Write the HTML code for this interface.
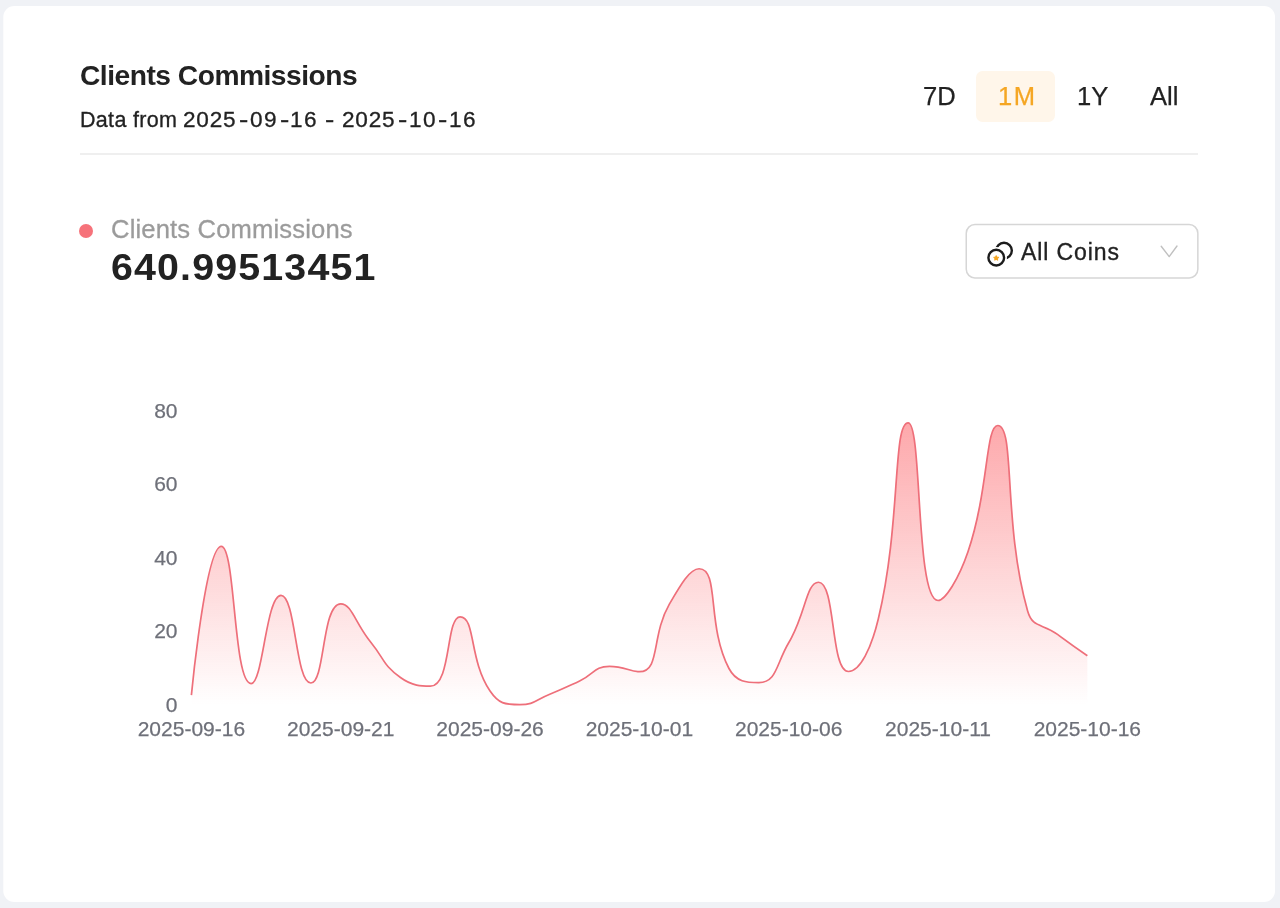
<!DOCTYPE html>
<html><head><meta charset="utf-8"><title>Clients Commissions</title>
<style>
html,body{margin:0;padding:0}
body{width:1280px;height:908px;overflow:hidden;background:#f0f2f6;position:relative;font-family:"Liberation Sans",sans-serif;color:#222}
.t{position:absolute;white-space:nowrap;line-height:1;will-change:transform}
.s{color:#222;-webkit-text-stroke:.3px #222;transform-origin:0 0}
.h{transform:scaleX(1.3)}
.d4{letter-spacing:.75px;transform:scaleX(1.05)}
.d2{letter-spacing:1.3px;transform:scaleX(1.05)}
.hr{position:absolute;left:80px;top:153px;width:1118px;height:2px;background:#efefef}
.pill{position:absolute;left:975.7px;top:71.1px;width:78.9px;height:50.8px;border-radius:6.5px;background:#fff6ea}
.dot{position:absolute;left:79.3px;top:223.7px;width:14.2px;height:14.2px;border-radius:50%;background:#f6727a}
svg{position:absolute;left:0;top:0;will-change:transform}
svg text{font-family:"Liberation Sans",sans-serif;font-size:21px;fill:#6e7079;stroke:#6e7079;stroke-width:.25px}
</style></head><body>
<svg width="1280" height="908" style="will-change:auto"><rect x="3.3" y="6" width="1271.7" height="896" rx="11" fill="#fff"/></svg>
<div class="t" style="left:79.70px;top:61.33px;font-size:28.20px;font-weight:700;letter-spacing:-.5px;color:#222">Clients Commissions</div>
<div class="t s" style="left:80.10px;top:109.50px;font-size:21.50px;letter-spacing:.32px">Data from</div>
<div class="t s d4" style="left:183.10px;top:109.50px;font-size:21.50px;">2025</div>
<div class="t s h" style="left:239.00px;top:109.50px;font-size:21.50px;">-</div>
<div class="t s d2" style="left:250.00px;top:109.50px;font-size:21.50px;">09</div>
<div class="t s h" style="left:279.60px;top:109.50px;font-size:21.50px;">-</div>
<div class="t s d2" style="left:289.90px;top:109.50px;font-size:21.50px;">16</div>
<div class="t s h" style="left:324.70px;top:109.50px;font-size:21.50px;">-</div>
<div class="t s d4" style="left:342.20px;top:109.50px;font-size:21.50px;">2025</div>
<div class="t s h" style="left:397.70px;top:109.50px;font-size:21.50px;">-</div>
<div class="t s d2" style="left:408.80px;top:109.50px;font-size:21.50px;">10</div>
<div class="t s h" style="left:438.30px;top:109.50px;font-size:21.50px;">-</div>
<div class="t s d2" style="left:448.60px;top:109.50px;font-size:21.50px;">16</div>
<div class="hr"></div>
<div class="pill"></div>
<div class="t" style="left:922.60px;top:83.93px;font-size:25.60px;color:#222;-webkit-text-stroke:.25px #222">7D</div>
<div class="t" style="left:998.00px;top:83.93px;font-size:25.60px;color:#f5a623;letter-spacing:1.6px;-webkit-text-stroke:.25px #f5a623">1M</div>
<div class="t" style="left:1076.60px;top:83.93px;font-size:25.60px;color:#222;-webkit-text-stroke:.25px #222">1Y</div>
<div class="t" style="left:1149.60px;top:83.93px;font-size:25.60px;color:#222;-webkit-text-stroke:.25px #222">All</div>
<div class="dot"></div>
<div class="t" style="left:111.20px;top:216.73px;font-size:25.60px;color:#9b9b9b;letter-spacing:.15px;-webkit-text-stroke:.3px #9b9b9b">Clients Commissions</div>
<div class="t" style="left:111.30px;top:249.66px;font-size:36.20px;font-weight:700;letter-spacing:1.05px;color:#222;transform-origin:0 0;transform:scaleX(1.088)">640.99513451</div>
<div class="t" style="left:1021.30px;top:240.73px;font-size:23.00px;color:#222;letter-spacing:.9px;-webkit-text-stroke:.35px #222">All Coins</div>
<svg width="1280" height="908" viewBox="0 0 1280 908">
<defs><linearGradient id="g" gradientUnits="userSpaceOnUse" x1="0" y1="422.8" x2="0" y2="705.0">
<stop offset="0" stop-color="#fc6e73" stop-opacity=".6"/><stop offset="1" stop-color="#fc6e73" stop-opacity="0"/></linearGradient></defs>
<path d="M191.40 695.20 C191.40 695.20 205.75 546.30 221.27 546.30 C235.62 546.30 233.17 683.60 251.13 683.60 C263.03 683.60 266.02 595.40 281.00 595.40 C295.88 595.40 295.26 683.00 310.86 683.00 C325.13 683.00 321.74 603.80 340.73 603.80 C351.60 603.80 355.33 623.17 370.59 642.00 C385.19 660.02 382.58 664.52 400.45 677.50 C412.44 686.20 421.61 686.20 430.32 686.20 C451.48 686.20 445.68 616.80 460.18 616.80 C475.54 616.80 468.88 659.85 490.05 691.00 C498.75 703.80 504.70 704.70 519.91 704.70 C534.57 704.70 535.08 700.03 549.78 694.20 C564.94 688.18 564.86 687.91 579.64 681.00 C594.72 673.96 593.89 666.30 609.51 666.30 C623.75 666.30 630.66 671.70 639.38 671.70 C660.52 671.70 650.94 635.95 669.24 604.40 C680.80 584.47 689.88 568.75 699.11 568.75 C719.75 568.75 706.30 625.28 728.97 668.50 C736.16 682.21 746.92 682.60 758.83 682.60 C776.79 682.60 776.03 664.09 788.70 642.80 C805.89 613.91 806.09 582.25 818.56 582.25 C835.95 582.25 830.24 671.50 848.43 671.50 C860.10 671.50 871.33 648.01 878.29 619.00 C901.19 523.66 892.51 422.80 908.16 422.80 C922.37 422.80 915.33 600.50 938.02 600.50 C945.20 600.50 958.79 578.66 967.89 552.00 C988.66 491.16 985.54 425.50 997.75 425.50 C1015.41 425.50 1002.77 524.10 1027.62 611.00 C1032.64 628.55 1042.30 623.04 1057.48 634.40 C1072.17 645.39 1087.35 655.70 1087.35 655.70 L1087.35 705.00 L191.40 705.00 Z" fill="url(#g)"/>
<path d="M191.40 695.20 C191.40 695.20 205.75 546.30 221.27 546.30 C235.62 546.30 233.17 683.60 251.13 683.60 C263.03 683.60 266.02 595.40 281.00 595.40 C295.88 595.40 295.26 683.00 310.86 683.00 C325.13 683.00 321.74 603.80 340.73 603.80 C351.60 603.80 355.33 623.17 370.59 642.00 C385.19 660.02 382.58 664.52 400.45 677.50 C412.44 686.20 421.61 686.20 430.32 686.20 C451.48 686.20 445.68 616.80 460.18 616.80 C475.54 616.80 468.88 659.85 490.05 691.00 C498.75 703.80 504.70 704.70 519.91 704.70 C534.57 704.70 535.08 700.03 549.78 694.20 C564.94 688.18 564.86 687.91 579.64 681.00 C594.72 673.96 593.89 666.30 609.51 666.30 C623.75 666.30 630.66 671.70 639.38 671.70 C660.52 671.70 650.94 635.95 669.24 604.40 C680.80 584.47 689.88 568.75 699.11 568.75 C719.75 568.75 706.30 625.28 728.97 668.50 C736.16 682.21 746.92 682.60 758.83 682.60 C776.79 682.60 776.03 664.09 788.70 642.80 C805.89 613.91 806.09 582.25 818.56 582.25 C835.95 582.25 830.24 671.50 848.43 671.50 C860.10 671.50 871.33 648.01 878.29 619.00 C901.19 523.66 892.51 422.80 908.16 422.80 C922.37 422.80 915.33 600.50 938.02 600.50 C945.20 600.50 958.79 578.66 967.89 552.00 C988.66 491.16 985.54 425.50 997.75 425.50 C1015.41 425.50 1002.77 524.10 1027.62 611.00 C1032.64 628.55 1042.30 623.04 1057.48 634.40 C1072.17 645.39 1087.35 655.70 1087.35 655.70" fill="none" stroke="#ee6f7a" stroke-width="1.7" stroke-linejoin="round" stroke-linecap="butt"/>
<text x="191.40" y="735.9" text-anchor="middle">2025-09-16</text>
<text x="340.73" y="735.9" text-anchor="middle">2025-09-21</text>
<text x="490.05" y="735.9" text-anchor="middle">2025-09-26</text>
<text x="639.38" y="735.9" text-anchor="middle">2025-10-01</text>
<text x="788.70" y="735.9" text-anchor="middle">2025-10-06</text>
<text x="938.02" y="735.9" text-anchor="middle">2025-10-11</text>
<text x="1087.35" y="735.9" text-anchor="middle">2025-10-16</text>
<text x="177.5" y="711.80" text-anchor="end">0</text>
<text x="177.5" y="638.30" text-anchor="end">20</text>
<text x="177.5" y="564.80" text-anchor="end">40</text>
<text x="177.5" y="491.30" text-anchor="end">60</text>
<text x="177.5" y="417.80" text-anchor="end">80</text>
<rect x="966.25" y="224.55" width="231.6" height="53.4" rx="8.7" fill="none" stroke="#d6d6d6" stroke-width="1.5"/>
<g fill="none" stroke="#1c1c1c" stroke-width="2.4">
<circle cx="1004" cy="250.6" r="7.85"/>
<circle cx="996.25" cy="257.65" r="9.4" fill="#fff" stroke="#fff" stroke-width="2.6"/>
<circle cx="996.25" cy="257.65" r="7.85"/>
</g>
<path d="M996.2 255.7l.72 1.45 1.6.24-1.16 1.12.28 1.6-1.44-.76-1.44.76.28-1.6-1.16-1.12 1.6-.24z" fill="#f5a623" stroke="#f5a623" stroke-width="1.1" stroke-linejoin="round"/>
<path d="M1161.2 246.2L1169.2 256.6L1177 246" fill="none" stroke="#c0c0c0" stroke-width="1.4" stroke-linecap="round" stroke-linejoin="round"/>
</svg>
</body></html>
